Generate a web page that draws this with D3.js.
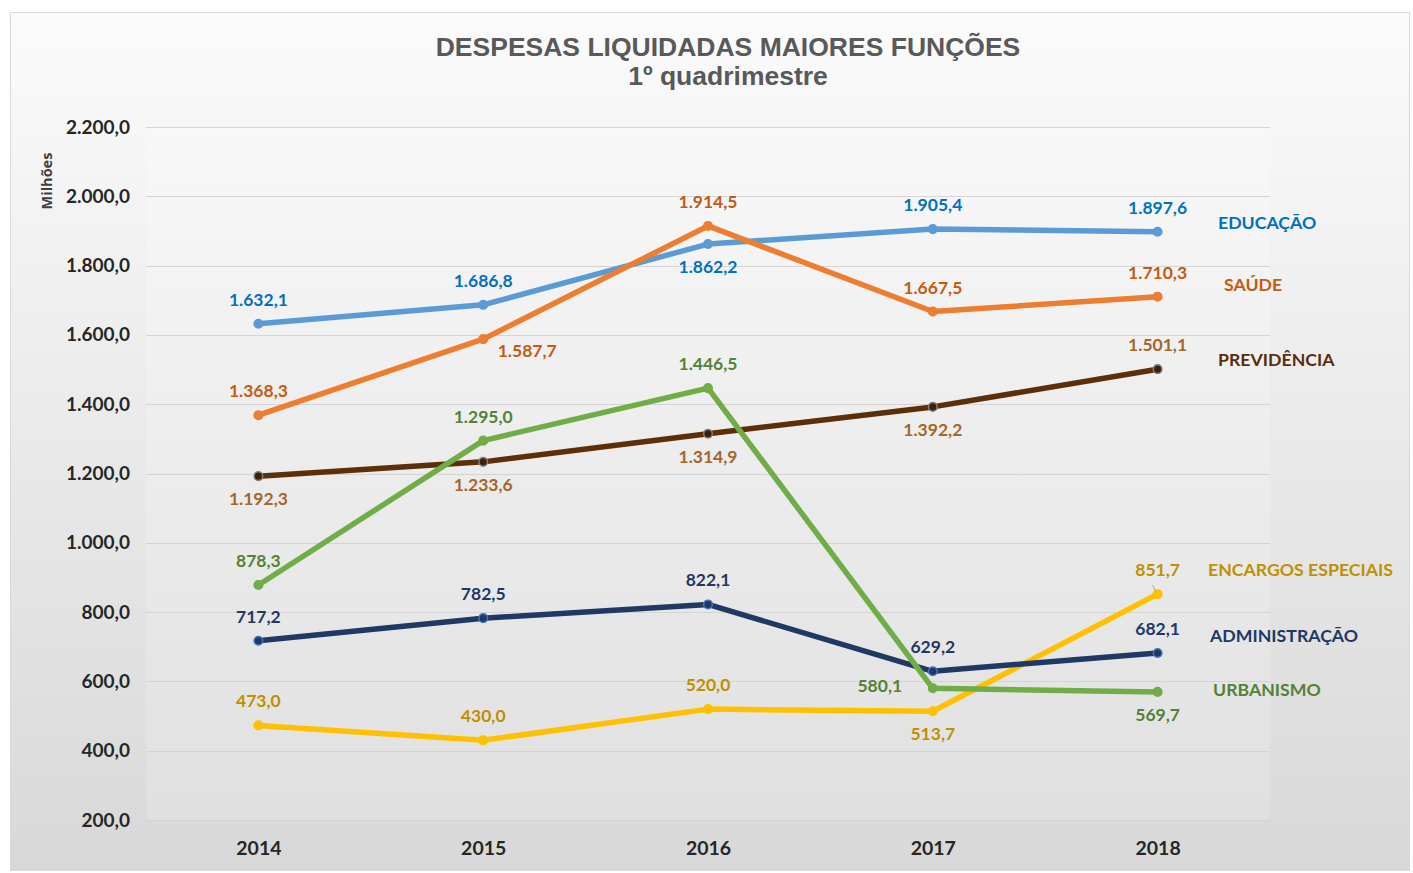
<!DOCTYPE html>
<html><head><meta charset="utf-8">
<script src="https://cdn.jsdelivr.net/npm/d3@7"></script>
<style>
html,body{margin:0;padding:0;background:#fff;}
svg{display:block;}
</style></head>
<body>
<script>
const years = ["2014","2015","2016","2017","2018"];
const yTicks = [200,400,600,800,1000,1200,1400,1600,1800,2000,2200];
const seriesNames = ["EDUCAÇÃO","SAÚDE","PREVIDÊNCIA","URBANISMO","ADMINISTRAÇÃO","ENCARGOS ESPECIAIS"];
const educacao = [1632.1,1686.8,1862.2,1905.4,1897.6];
const saude = [1368.3,1587.7,1914.5,1667.5,1710.3];
const previdencia = [1192.3,1233.6,1314.9,1392.2,1501.1];
const urbanismo = [878.3,1295.0,1446.5,580.1,569.7];
const administracao = [717.2,782.5,822.1,629.2,682.1];
const encargos = [473.0,430.0,520.0,513.7,851.7];
// label placement: a=above, b=below, r=below-right, l=left
const posEdu = ["a","a","b","a","a"];
const posSau = ["a","r","a","a","a"];
const posPrev = ["b","b","b","b","a"];
const posUrb = ["a","a","a","l","b"];
const posAdm = ["a","a","a","a","a"];
const posEnc = ["a","a","a","b","a"];

(function(){
const W=1413,H=873;
const svg=d3.select("body").append("svg").attr("width",W).attr("height",H);
const defs=svg.append("defs");
const g1=defs.append("linearGradient").attr("id","bg").attr("x1",0).attr("y1",0).attr("x2",0).attr("y2",1);
g1.append("stop").attr("offset","0%").attr("stop-color","#fbfbfb");
g1.append("stop").attr("offset","100%").attr("stop-color","#d8d8d8");
const g2=defs.append("linearGradient").attr("id","pa").attr("x1",0).attr("y1",0).attr("x2",0).attr("y2",1);
g2.append("stop").attr("offset","0%").attr("stop-color","#f8f8f8");
g2.append("stop").attr("offset","100%").attr("stop-color","#e0e0e0");

svg.append("rect").attr("x",10.5).attr("y",12.5).attr("width",1399).attr("height",858)
  .attr("fill","url(#bg)").attr("stroke","#d9d9d9").attr("stroke-width",1);

const pL=146,pR=1270,pT=127,pB=820;
const x=d3.scalePoint().domain(years).range([pL,pR]).padding(0.5);
const y=d3.scaleLinear().domain([200,2200]).range([pB,pT]);

svg.append("rect").attr("x",pL).attr("y",pT).attr("width",pR-pL).attr("height",pB-pT).attr("fill","url(#pa)");

svg.append("g").selectAll("line").data(yTicks).join("line")
  .attr("x1",pL).attr("x2",pR).attr("y1",d=>Math.round(y(d))+0.5).attr("y2",d=>Math.round(y(d))+0.5)
  .attr("stroke","#d4d4d4").attr("stroke-width",1);

const fmt=v=>{const s=v.toFixed(1).split(".");return s[0].replace(/\B(?=(\d{3})+(?!\d))/g,".")+","+s[1];};
const lf="Lato, 'Open Sans', sans-serif";

const ya=svg.append("g").attr("transform",`translate(${pL},0)`)
  .call(d3.axisLeft(y).tickValues(yTicks).tickFormat(fmt).tickSize(0).tickPadding(16));
ya.select(".domain").remove();
ya.selectAll("text").attr("font-family",lf).attr("font-weight","700")
  .attr("font-size","19px").attr("fill","#262626");

const xa=svg.append("g").attr("transform",`translate(0,${pB})`)
  .call(d3.axisBottom(x).tickSize(0).tickPadding(21));
xa.select(".domain").remove();
xa.selectAll("text").attr("font-family",lf).attr("font-weight","700")
  .attr("font-size","19.5px").attr("fill","#262626");

svg.append("text").attr("transform","translate(52,181) rotate(-90)").attr("text-anchor","middle")
  .attr("font-family","'Open Sans', sans-serif").attr("font-weight","700").attr("font-size","14.5px")
  .attr("fill","#404040").text("Milhões");

const tf="'Liberation Sans Narrow','Arial Narrow','Liberation Sans',sans-serif";
svg.append("text").attr("x",728).attr("y",56).attr("text-anchor","middle").attr("font-family",tf)
  .attr("font-weight","700").attr("font-size","26.5px").attr("fill","#595959").text("DESPESAS LIQUIDADAS MAIORES FUNÇÕES");
svg.append("text").attr("x",728).attr("y",85).attr("text-anchor","middle").attr("font-family",tf)
  .attr("font-weight","700").attr("font-size","26.5px").attr("fill","#595959").text("1º quadrimestre");

const series=[
 {name:seriesNames[5],vals:encargos,pos:posEnc,line:"#ffc000",lab:"#bf9000",leg:"#bf9000",mfill:"#ffc000",mstroke:"#ffc000",lx:1208,ly:570},
 {name:seriesNames[4],vals:administracao,pos:posAdm,line:"#203864",lab:"#203864",leg:"#203864",mfill:"#203864",mstroke:"#4472c4",lx:1210,ly:636},
 {name:seriesNames[2],vals:previdencia,pos:posPrev,line:"#5c2f08",lab:"#a5662c",leg:"#5a2e0c",mfill:"#3d2006",mstroke:"#808080",lx:1218,ly:360},
 {name:seriesNames[0],vals:educacao,pos:posEdu,line:"#5b9bd5",lab:"#0070c0",leg:"#0070c0",mfill:"#5b9bd5",mstroke:"#5b9bd5",lx:1218,ly:223},
 {name:seriesNames[3],vals:urbanismo,pos:posUrb,line:"#70ad47",lab:"#548235",leg:"#548235",mfill:"#70ad47",mstroke:"#70ad47",lx:1213,ly:690},
 {name:seriesNames[1],vals:saude,pos:posSau,line:"#ed7d31",lab:"#c55a11",leg:"#c55a11",mfill:"#ed7d31",mstroke:"#ed7d31",lx:1224,ly:285}
];
const line=d3.line().x((d,i)=>x(years[i])).y(d=>y(d));
series.forEach(s=>{
  const g=svg.append("g");
  g.append("path").attr("d",line(s.vals)).attr("fill","none").attr("stroke",s.line)
    .attr("stroke-width",5.5).attr("stroke-linejoin","round").attr("stroke-linecap","round");
  g.selectAll("circle").data(s.vals).join("circle").attr("cx",(d,i)=>x(years[i])).attr("cy",d=>y(d))
    .attr("r",4.3).attr("fill",s.mfill).attr("stroke",s.mstroke).attr("stroke-width",1.5);
});
// small leader line for the last ENCARGOS label
const lx=x(years[4]), lyv=y(encargos[4]);
svg.append("line").attr("x1",lx-5).attr("y1",lyv-9).attr("x2",lx-2).attr("y2",lyv-3)
  .attr("stroke","#a6a6a6").attr("stroke-width",1);
series.forEach(s=>{
  const g=svg.append("g");
  g.selectAll("text").data(s.vals).join("text")
    .attr("x",(d,i)=>x(years[i]) + (s.pos[i]==="r"?44:s.pos[i]==="l"?-53:0))
    .attr("y",(d,i)=>y(d) + (s.pos[i]==="a"?-18:s.pos[i]==="b"?29:s.pos[i]==="r"?18:4))
    .attr("text-anchor","middle").attr("font-family",lf).attr("font-weight","700").attr("font-size","17.5px")
    .attr("fill",s.lab).text(d=>fmt(d));
  svg.append("text").attr("x",s.lx).attr("y",s.ly+6).attr("font-family",lf).attr("font-weight","700")
    .attr("font-size","17.7px").attr("fill",s.leg).text(s.name);
});
})();
</script>
</body></html>
